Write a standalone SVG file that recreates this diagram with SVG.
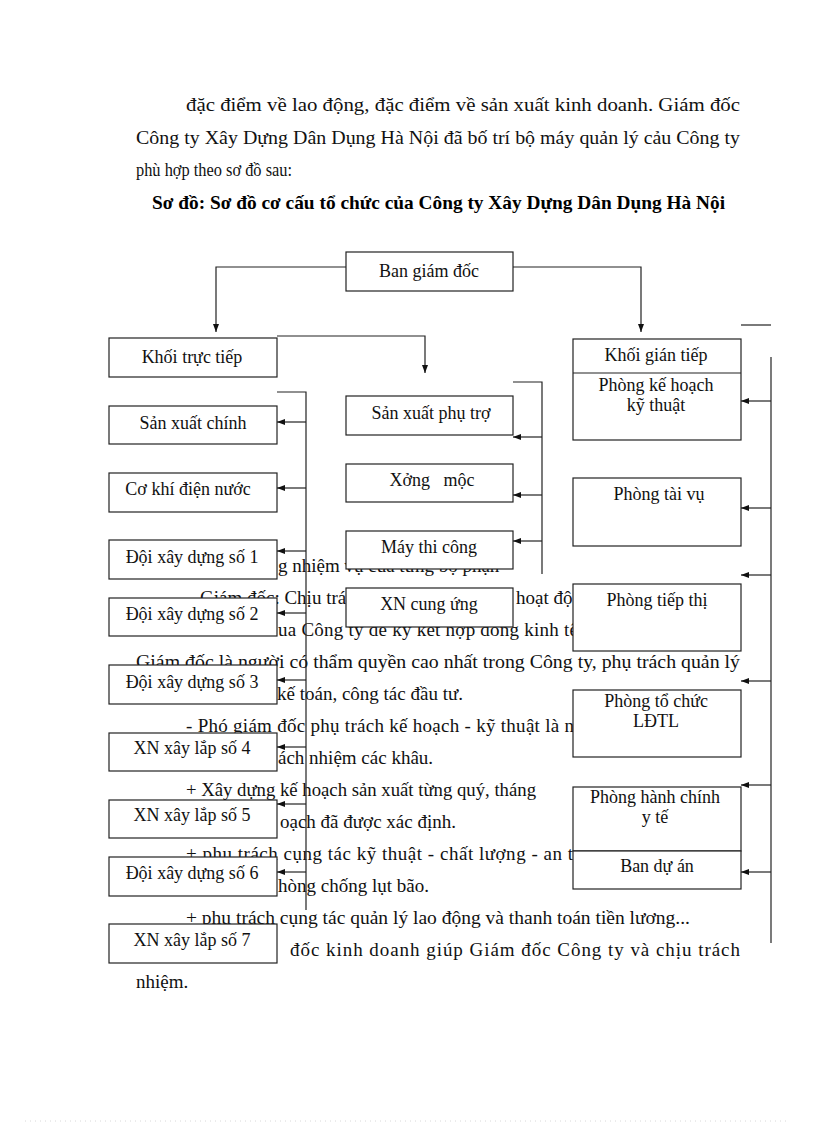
<svg xmlns="http://www.w3.org/2000/svg" width="816" height="1123" viewBox="0 0 816 1123">
<style>
.body{font-family:"Liberation Serif","Times New Roman",serif;font-size:19px;fill:#111}
.top{font-family:"Liberation Serif","Times New Roman",serif;font-size:19px;fill:#111}
.title{font-family:"Liberation Serif","Times New Roman",serif;font-size:19px;font-weight:bold;fill:#000}
.lbl{font-family:"Liberation Serif","Times New Roman",serif;font-size:18px;fill:#111;text-anchor:middle}
.box{fill:#fff;stroke:#222;stroke-width:1.2}
.ln{fill:none;stroke:#222;stroke-width:1.2}
.arr{fill:none;stroke:#222;stroke-width:1.2;marker-end:url(#ah)}
</style>
<defs>
<marker id="ah" viewBox="0 0 8 6" refX="8" refY="3" markerWidth="8" markerHeight="6" markerUnits="userSpaceOnUse" orient="auto">
<path d="M0,0 L8,3 L0,6 z" fill="#111"/>
</marker>
</defs>
<rect x="0" y="0" width="816" height="1123" fill="#fff"/>

<g id="paragraph-top">
<text class="top" x="186" y="111" textLength="554" lengthAdjust="spacingAndGlyphs">đặc điểm về lao  động, đặc điểm về sản xuất kinh  doanh. Giám  đốc</text>
<text class="top" x="136" y="144" textLength="604" lengthAdjust="spacingAndGlyphs">Công ty Xây Dựng Dân Dụng Hà Nội đã bố trí bộ máy quản lý cảu Công ty</text>
<text class="top" x="136" y="176" textLength="156" lengthAdjust="spacingAndGlyphs">phù hợp theo sơ đồ sau:</text>
<text class="title" x="152" y="209" textLength="573" lengthAdjust="spacingAndGlyphs">Sơ đồ: Sơ đồ cơ cấu tổ chức của Công ty Xây Dựng Dân Dụng Hà Nội</text>
</g>

<g id="paragraph-body">
<text class="body" x="278" y="572">g nhiệm vụ của từng bộ phận</text>
<text class="body" x="200" y="604">Giám đốc: Chịu trá</text>
<text class="body" x="516" y="604">hoạt độ</text>
<text class="body" x="278" y="636" textLength="300" lengthAdjust="spacing">ua Công ty để ký kết hợp đồng kinh tế</text>
<text class="body" x="136" y="668" textLength="604" lengthAdjust="spacingAndGlyphs">Giám đốc là người có thẩm quyền cao nhất trong Công ty, phụ trách quản lý</text>
<text class="body" x="277" y="700">kế toán, công tác đầu tư.</text>
<text class="body" x="186" y="732" textLength="388" lengthAdjust="spacing">- Phó giám đốc phụ trách kế hoạch - kỹ thuật là n</text>
<text class="body" x="278" y="764">ách nhiệm các khâu.</text>
<text class="body" x="186" y="796" textLength="350" lengthAdjust="spacingAndGlyphs">+ Xây dựng kế hoạch sản xuất từng quý, tháng</text>
<text class="body" x="280" y="828">oạch đã được xác định.</text>
<text class="body" x="186" y="860" textLength="387" lengthAdjust="spacing">+ phụ trách cụng tác kỹ thuật - chất lượng - an t</text>
<text class="body" x="278" y="892">hòng chống lụt bão.</text>
<text class="body" x="186" y="924" textLength="504" lengthAdjust="spacingAndGlyphs">+ phụ trách cụng tác quản lý lao động và thanh toán tiền lương...</text>
<text class="body" x="290" y="956" textLength="450" lengthAdjust="spacing">đốc kinh doanh giúp Giám đốc Công ty và chịu trách</text>
<text class="body" x="136" y="988">nhiệm.</text>
</g>

<g id="connectors">
<path class="arr" d="M346,267 H216 V332"/>
<path class="arr" d="M513,267 H641 V332"/>
<path class="arr" d="M277,336 H425 V373"/>
<path class="ln" d="M741,325 H771"/>
<path class="ln" d="M277,392 H306 V910"/>
<path class="arr" d="M306,422 H277"/>
<path class="arr" d="M306,488 H277"/>
<path class="arr" d="M306,551 H277"/>
<path class="arr" d="M306,613 H277"/>
<path class="arr" d="M306,680 H277"/>
<path class="arr" d="M306,747 H277"/>
<path class="arr" d="M306,804 H277"/>
<path class="arr" d="M306,872 H277"/>
<path class="ln" d="M513,382 H542 V574"/>
<path class="arr" d="M542,437 H513"/>
<path class="arr" d="M542,495 H513"/>
<path class="arr" d="M542,541 H513"/>
<path class="ln" d="M771,357 V943"/>
<path class="arr" d="M771,401 H741"/>
<path class="arr" d="M771,508 H741"/>
<path class="arr" d="M771,575 H741"/>
<path class="arr" d="M771,681 H741"/>
<path class="arr" d="M771,785 H741"/>
<path class="arr" d="M771,872 H741"/>
</g>

<g id="ban-giam-doc"><rect class="box" x="346" y="252" width="167" height="39"/><text class="lbl" x="429" y="277">Ban giám đốc</text></g>

<g id="khoi-truc-tiep"><rect class="box" x="109" y="338" width="168" height="39"/><text class="lbl" x="192" y="363">Khối trực tiếp</text></g>
<g id="san-xuat-chinh"><rect class="box" x="109" y="406" width="168" height="38"/><text class="lbl" x="193" y="429">Sản xuất chính</text></g>
<g id="co-khi-dien-nuoc"><rect class="box" x="109" y="473" width="168" height="39"/><text class="lbl" x="188" y="495">Cơ khí điện nước</text></g>
<g id="doi-1"><rect class="box" x="109" y="540" width="168" height="39"/><text class="lbl" x="192" y="563">Đội xây dựng số 1</text></g>
<g id="doi-2"><rect class="box" x="109" y="598" width="168" height="38"/><text class="lbl" x="192" y="620">Đội xây dựng số 2</text></g>
<g id="doi-3"><rect class="box" x="109" y="665" width="168" height="39"/><text class="lbl" x="192" y="688">Đội xây dựng số 3</text></g>
<g id="xn-4"><rect class="box" x="109" y="733" width="168" height="38"/><text class="lbl" x="192" y="754">XN xây lắp số 4</text></g>
<g id="xn-5"><rect class="box" x="109" y="800" width="168" height="38"/><text class="lbl" x="192" y="821">XN xây lắp số 5</text></g>
<g id="doi-6"><rect class="box" x="109" y="857" width="168" height="39"/><text class="lbl" x="192" y="879">Đội xây dựng số 6</text></g>
<g id="xn-7"><rect class="box" x="109" y="924" width="168" height="39"/><text class="lbl" x="192" y="946">XN xây lắp số 7</text></g>

<g id="san-xuat-phu-tro"><rect class="box" x="346" y="396" width="167" height="39"/><text class="lbl" x="431" y="419">Sản xuất phụ trợ</text></g>
<g id="xong-moc"><rect class="box" x="346" y="464" width="167" height="38"/><text class="lbl" x="432" y="486" xml:space="preserve" style="white-space:pre">Xởng   mộc</text></g>
<g id="may-thi-cong"><rect class="box" x="346" y="531" width="167" height="38"/><text class="lbl" x="429" y="553">Máy thi công</text></g>
<g id="xn-cung-ung"><rect class="box" x="346" y="588" width="167" height="39"/><text class="lbl" x="429" y="610">XN cung ứng</text></g>

<g id="khoi-gian-tiep"><rect class="box" x="573" y="339" width="168" height="101"/><line class="ln" x1="573" y1="373" x2="741" y2="373"/><text class="lbl" x="656" y="361">Khối gián tiếp</text><text class="lbl" x="656" y="391">Phòng kế hoạch</text><text class="lbl" x="656" y="411">kỹ thuật</text></g>
<g id="phong-tai-vu"><rect class="box" x="573" y="478" width="168" height="68"/><text class="lbl" x="659" y="500">Phòng tài vụ</text></g>
<g id="phong-tiep-thi"><rect class="box" x="573" y="584" width="168" height="67"/><text class="lbl" x="657" y="606">Phòng tiếp thị</text></g>
<g id="phong-to-chuc"><rect class="box" x="573" y="690" width="168" height="67"/><text class="lbl" x="656" y="707">Phòng tổ chức</text><text class="lbl" x="656" y="727">LĐTL</text></g>
<g id="phong-hanh-chinh"><rect class="box" x="573" y="787" width="168" height="64"/><text class="lbl" x="655" y="803">Phòng hành chính</text><text class="lbl" x="655" y="823">y tế</text></g>
<g id="ban-du-an"><rect class="box" x="573" y="851" width="168" height="38"/><text class="lbl" x="657" y="872">Ban dự án</text></g>

<line x1="25" y1="1121" x2="790" y2="1121" stroke="#d8d8d8" stroke-width="1" stroke-dasharray="1,4"/>
</svg>
